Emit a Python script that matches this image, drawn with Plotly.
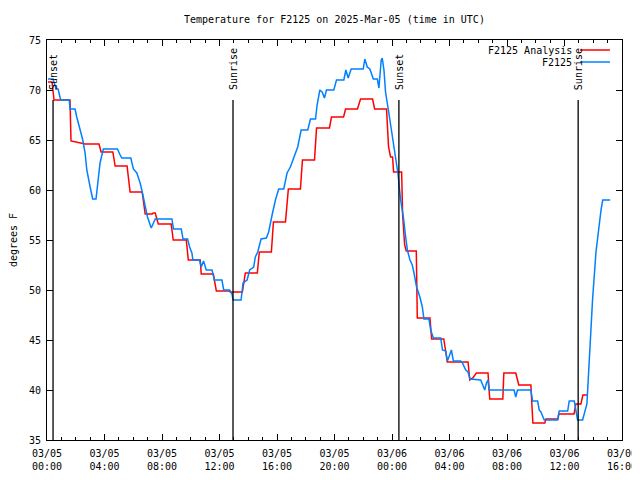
import plotly.graph_objects as go
import pandas as pd

# ---- data (hours since 2025-03-05 00:00 UTC, temperature in F) ----
analysis_hours = [0.07, 0.35, 0.49, 1.60, 1.67, 2.65, 3.62, 3.76, 4.58, 4.74, 5.57, 5.78,
                  6.62, 6.83, 7.32, 7.39, 7.53, 7.74, 8.64, 8.78, 9.69, 9.83, 10.66, 10.73,
                  11.57, 11.78, 12.68, 12.75, 13.59, 13.73, 13.80, 14.63, 14.77, 15.61, 15.75,
                  16.59, 16.79, 17.63, 17.77, 18.61, 18.75, 19.65, 19.79, 20.63, 20.77, 21.60,
                  21.81, 22.65, 22.79, 23.62, 23.76, 23.90, 24.04, 24.11, 24.67, 24.74, 24.88,
                  24.99, 25.69, 25.76, 26.64, 26.76, 27.60, 27.85, 29.29, 29.41, 29.62, 29.87,
                  30.68, 30.80, 31.71, 31.78, 32.61, 32.82, 33.66, 33.80, 34.63, 34.70, 35.54,
                  35.61, 36.66, 36.79, 37.14, 37.28, 37.63]
analysis_temp = [70.8, 70.8, 69.0, 69.0, 64.9, 64.6, 64.6, 63.8, 63.8, 62.4, 62.4, 59.8,
                 59.8, 57.6, 57.6, 57.7, 57.7, 56.6, 56.6, 55.0, 55.0, 53.0, 53.0, 51.6,
                 51.6, 49.9, 49.9, 49.8, 49.8, 51.3, 51.7, 51.7, 53.8, 53.8, 56.8,
                 56.8, 60.1, 60.1, 63.0, 63.0, 66.2, 66.2, 67.3, 67.3, 68.1, 68.1,
                 69.1, 69.1, 68.1, 68.1, 64.3, 63.3, 63.3, 61.8, 61.8, 57.5, 54.5,
                 53.9, 53.9, 47.2, 47.2, 45.1, 45.1, 42.8, 42.8, 41.0, 41.2, 41.7,
                 41.7, 39.1, 39.1, 41.7, 41.7, 40.5, 40.5, 36.7, 36.7, 37.1, 37.1,
                 37.6, 37.6, 38.6, 38.6, 39.5, 39.5]

obs_hours = [0.07, 0.42, 0.63, 0.77, 0.95, 1.55, 1.60, 1.95, 2.07, 2.30, 2.49, 2.65, 2.77,
             3.00, 3.18, 3.41, 3.57, 3.69, 3.92, 4.90, 5.09, 5.21, 5.83, 6.01, 6.25, 6.48,
             6.64, 6.83, 6.99, 7.25, 7.53, 8.69, 8.80, 9.34, 9.46, 9.78, 9.92, 10.08, 10.15,
             10.61, 10.73, 10.89, 11.08, 11.48, 11.64, 12.17, 12.29, 12.70, 12.87, 12.94,
             13.50, 13.64, 13.92, 14.10, 14.38, 14.49, 14.66, 14.89, 15.26, 15.42, 15.54,
             15.66, 15.89, 16.12, 16.47, 16.70, 16.93, 17.16, 17.44, 17.68, 18.14, 18.33,
             18.68, 18.79, 18.98, 19.14, 19.30, 19.44, 19.95, 20.14, 20.65, 20.79, 20.95,
             21.16, 22.00, 22.11, 22.28, 22.46, 22.70, 22.98, 23.09, 23.25, 23.32, 23.44,
             23.55, 23.78, 24.02, 24.25, 24.41, 24.60, 24.79, 24.95, 25.07, 25.25, 25.41,
             25.53, 25.71, 25.94, 26.11, 26.22, 26.57, 26.69, 26.88, 27.39, 27.51, 27.74,
             27.85, 27.96, 28.13, 28.27, 28.78, 28.90, 29.13, 29.29, 29.43, 30.17, 30.45,
             30.57, 30.68, 30.75, 32.49, 32.61, 32.73, 33.66, 33.78, 34.13, 34.24, 34.36,
             34.59, 35.52, 35.63, 36.22, 36.33, 36.68, 36.79, 36.91, 37.26, 37.42, 37.56,
             37.65, 37.72, 37.84, 37.95, 38.19, 38.31, 38.42, 38.54, 38.66, 39.18]
obs_temp = [71.1, 71.1, 70.1, 70.1, 69.0, 69.0, 68.1, 68.1, 67.3, 66.0, 65.0, 63.7, 62.0,
            60.3, 59.1, 59.1, 61.3, 62.7, 64.1, 64.1, 63.5, 63.2, 63.2, 62.1, 61.7, 60.7,
            59.7, 58.3, 57.3, 56.2, 57.1, 57.1, 56.1, 56.1, 55.1, 55.1, 54.3, 53.7, 53.0,
            53.0, 52.3, 52.9, 52.0, 52.0, 51.0, 51.0, 50.0, 50.0, 49.6, 49.0,
            49.0, 50.7, 51.0, 52.0, 52.3, 53.3, 53.8, 55.1, 55.2, 55.8, 56.5,
            57.5, 59.0, 60.1, 60.1, 61.7, 62.3, 63.2, 64.3, 66.0, 66.0, 67.1,
            67.1, 68.5, 70.0, 69.8, 69.2, 70.0, 70.0, 71.0, 71.0, 72.0, 71.2,
            72.1, 72.1, 73.1, 72.3, 72.1, 71.1, 71.1, 70.2, 73.0, 73.2, 72.0,
            69.8, 67.7, 65.3, 63.3, 61.7, 59.0, 57.3, 55.3, 54.0, 53.0, 52.5,
            51.7, 50.3, 49.3, 48.3, 47.1, 47.1, 46.0, 45.2, 45.2, 44.0, 43.9,
            42.9, 43.3, 44.0, 42.9, 42.9, 42.7, 42.0, 41.8, 41.1, 41.0, 40.0,
            40.7, 41.0, 40.0, 40.0, 39.3, 40.0, 40.0, 38.9, 38.9, 38.0, 37.8,
            37.0, 37.0, 37.9, 37.9, 38.9, 38.9, 37.8, 37.0, 37.0, 37.8, 38.6,
            41.0, 43.0, 47.0, 49.0, 53.8, 55.3, 56.7, 58.0, 59.0, 59.0]

sun_labels = ["Sunset", "Sunrise", "Sunset", "Sunrise"]
sun_hours = [0.42, 12.94, 24.48, 36.95]

series_names = ["F2125 Analysis", "F2125"]
series_colors = ["#ff0000", "#0080ff"]

base = pd.Timestamp("2025-03-05 00:00")


def to_time(hours):
    return [base + pd.Timedelta(hours=h) for h in hours]


FONT = "DejaVu Sans Mono"

fig = go.Figure()
fig.add_trace(go.Scatter(x=to_time(analysis_hours), y=analysis_temp, mode="lines",
                         name=series_names[0], line=dict(color=series_colors[0], width=1.5)))
fig.add_trace(go.Scatter(x=to_time(obs_hours), y=obs_temp, mode="lines",
                         name=series_names[1], line=dict(color=series_colors[1], width=1.5)))

# sunrise / sunset markers
for lab, t in zip(sun_labels, to_time(sun_hours)):
    fig.add_shape(type="line", xref="x", yref="y", x0=t, x1=t, y0=35, y1=69.0,
                  line=dict(color="black", width=1.3))
    fig.add_annotation(x=t, y=69.8, xref="x", yref="y", text=lab, textangle=-90,
                       showarrow=False, xanchor="center", yanchor="bottom",
                       font=dict(family=FONT, size=10, color="black"))

# gnuplot-style legend (text left, sample right)
leg_y = [0.975, 0.945]
for name, col, yy in zip(series_names, series_colors, leg_y):
    fig.add_annotation(x=0.917, y=yy, xref="paper", yref="paper", text=name,
                       showarrow=False, xanchor="right", yanchor="middle",
                       font=dict(family=FONT, size=10, color="black"))
    fig.add_shape(type="line", xref="paper", yref="paper", x0=0.927, x1=0.979,
                  y0=yy, y1=yy, line=dict(color=col, width=1.5))

fig.update_layout(
    width=640, height=480,
    margin=dict(l=39, r=26, t=32, b=48),
    paper_bgcolor="white", plot_bgcolor="white",
    showlegend=False,
    font=dict(family=FONT, size=10, color="black"),
    title=dict(text="Temperature for F2125 on 2025-Mar-05 (time in UTC)",
               x=0.51, xanchor="center", y=0.977, yanchor="middle",
               font=dict(family=FONT, size=10, color="black")),
)
fig.update_xaxes(
    type="date", automargin=False,
    range=[base, base + pd.Timedelta(hours=40)],
    tick0=base, dtick=4 * 3600 * 1000,
    tickformat="%m/%d<br>%H:%M",
    ticks="inside", ticklen=6, tickcolor="black",
    minor=dict(dtick=3600 * 1000, ticks="inside", ticklen=3, tickcolor="black"),
    showline=True, linecolor="black", linewidth=1, mirror="allticks",
    showgrid=False, zeroline=False,
    ticklabelstandoff=4,
    tickfont=dict(family=FONT, size=10, color="black"),
)
fig.update_yaxes(
    automargin=False,
    range=[35, 75], dtick=5, tick0=35,
    ticks="inside", ticklen=6, tickcolor="black",
    showline=True, linecolor="black", linewidth=1, mirror="allticks",
    showgrid=False, zeroline=False,
    ticklabelstandoff=3,
    title=dict(text="degrees F", standoff=17, font=dict(family=FONT, size=10, color="black")),
    tickfont=dict(family=FONT, size=10, color="black"),
)

fig.write_html("out.html")
